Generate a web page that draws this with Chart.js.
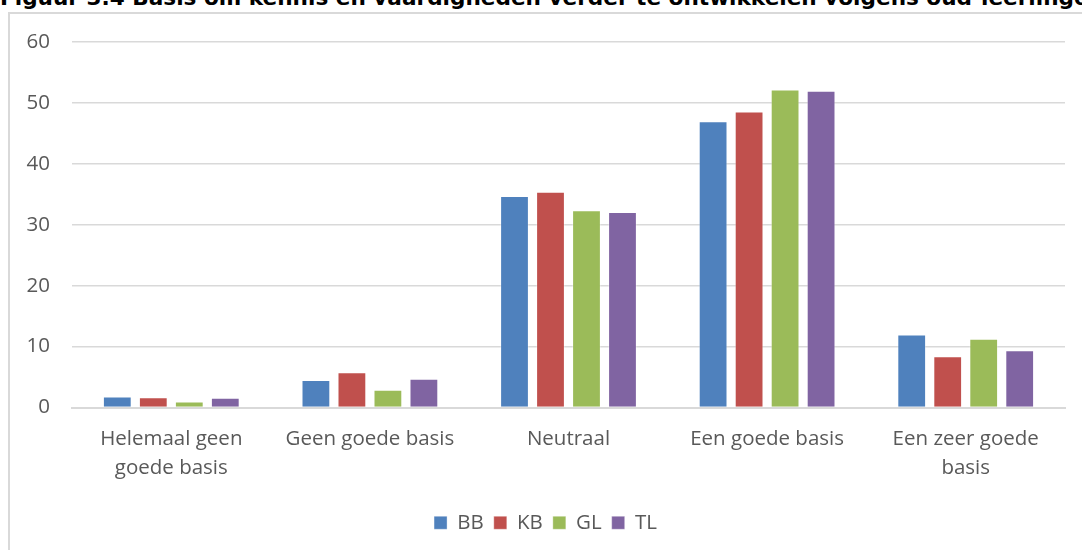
<!DOCTYPE html>
<html>
<head>
<meta charset="utf-8">
<script src="https://cdn.jsdelivr.net/npm/chart.js@4"></script>
<style>
    html, body { margin: 0; padding: 0; background: #fff; overflow: hidden; }
    #wrap { position: relative; width: 1082px; height: 550px; }
    #title {
        position: absolute; left: 0; top: -15px; white-space: nowrap;
        font: bold 21.6px "DejaVu Sans", Verdana, sans-serif; color: #000;
    }
    #frame {
        position: absolute; left: 8px; top: 12px; width: 1200px; height: 600px;
        border-left: 2px solid #d9d9d9; border-top: 2px solid #d9d9d9;
    }
    canvas { position: absolute; left: 0; top: 0; }
</style>
</head>
<body>
<div id="wrap">
    <div id="title">Figuur 3.4 Basis om kennis en vaardigheden verder te ontwikkelen volgens oud-leerlingen</div>
    <div id="frame"></div>
    <canvas id="chart" width="1082" height="550"></canvas>
</div>
<script>
const categories = [
    ['Helemaal geen', 'goede basis'],
    'Geen goede basis',
    'Neutraal',
    'Een goede basis',
    ['Een zeer goede', 'basis']
];
const bb = [1.8, 4.5, 34.7, 47.0, 12.0];
const kb = [1.7, 5.8, 35.4, 48.6, 8.4];
const gl = [1.0, 2.9, 32.4, 52.2, 11.3];
const tl = [1.6, 4.7, 32.1, 52.0, 9.4];
const yTicks = [0, 10, 20, 30, 40, 50, 60];

document.addEventListener('DOMContentLoaded', () => {
    const ctx = document.getElementById('chart').getContext('2d');
    const font = { family: '"Open Sans", sans-serif', size: 20.5, lineHeight: 1.38 };
    const bar = (label, data, color) => ({
        label, data,
        backgroundColor: color,
        borderColor: 'rgba(255,255,255,0.35)',
        borderWidth: 1,
        categoryPercentage: 0.725,
        barPercentage: 0.8
    });

    // legend sits a bit right of the canvas centre in the original
    const shiftLegend = {
        id: 'shiftLegend',
        afterLayout: chart => { chart.legend.left += 26; }
    };

    new Chart(ctx, {
        type: 'bar',
        data: {
            labels: categories,
            datasets: [
                bar('BB', bb, '#4F81BD'),
                bar('KB', kb, '#C0504D'),
                bar('GL', gl, '#9BBB59'),
                bar('TL', tl, '#8064A2')
            ]
        },
        options: {
            responsive: false,
            animation: false,
            layout: { padding: { top: 42, right: 17, bottom: 7, left: 0 } },
            plugins: {
                tooltip: { enabled: false },
                legend: {
                    position: 'bottom',
                    labels: {
                        font: { family: font.family, size: 20.5 }, color: '#595959',
                        boxWidth: 13, boxHeight: 13, padding: 10
                    }
                }
            },
            scales: {
                x: {
                    grid: { display: false, drawTicks: false },
                    border: { color: '#d9d9d9', width: 2 },
                    ticks: { font, color: '#595959', padding: 18, maxRotation: 0 },
                    afterFit: s => { s.height = 95; }
                },
                y: {
                    min: 0, max: 60,
                    afterBuildTicks: s => { s.ticks = yTicks.map(v => ({ value: v })); },
                    grid: { color: '#d9d9d9', lineWidth: 1.5, drawTicks: false },
                    border: { display: false },
                    ticks: { font, color: '#595959', padding: 22 },
                    afterFit: s => { s.width = 72; }
                }
            }
        },
        plugins: [shiftLegend]
    });
});
</script>
</body>
</html>
